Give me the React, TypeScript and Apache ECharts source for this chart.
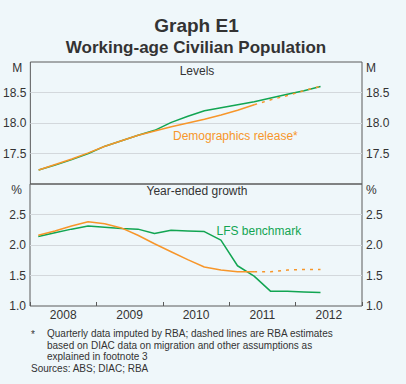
import React, { useEffect, useRef } from "react";
import * as echarts from "echarts";

const years = ["2008", "2009", "2010", "2011", "2012"];
const quarters = [
  "2008-Q1", "2008-Q2", "2008-Q3", "2008-Q4",
  "2009-Q1", "2009-Q2", "2009-Q3", "2009-Q4",
  "2010-Q1", "2010-Q2", "2010-Q3", "2010-Q4",
  "2011-Q1", "2011-Q2", "2011-Q3", "2011-Q4",
  "2012-Q1", "2012-Q2",
];
// Levels (millions)
const lfsLevel = [17.23, 17.31, 17.4, 17.5, 17.62, 17.71, 17.8, 17.88, 18.01, 18.11, 18.2, 18.25, 18.3, 18.35, 18.41, 18.47, 18.53, 18.6];
const demoLevel = [17.23, 17.32, 17.41, 17.51, 17.62, 17.71, 17.8, 17.87, 17.94, 18.0, 18.06, 18.13, 18.21, 18.3];
const demoLevelEst = [18.3, 18.38, 18.45, 18.53, 18.6]; // from 2011-Q2
// Year-ended growth (%)
const lfsGrowth = [2.14, 2.2, 2.26, 2.31, 2.29, 2.27, 2.26, 2.19, 2.24, 2.23, 2.22, 2.08, 1.66, 1.49, 1.24, 1.24, 1.23, 1.22];
const demoGrowth = [2.16, 2.23, 2.31, 2.38, 2.35, 2.28, 2.16, 2.02, 1.89, 1.76, 1.64, 1.59, 1.56, 1.56];
const demoGrowthEst = [1.56, 1.56, 1.59, 1.6, 1.6]; // from 2011-Q2
const levelTicks = { min: 17, max: 19, interval: 0.5 };
const growthTicks = { min: 1, max: 3, interval: 0.5 };

const GREEN = "#12a552";
const ORANGE = "#f7962a";
const TEXT = "#333333";
const FONT = '"Liberation Sans", Arial, sans-serif';
const BG = "#eff7fa";

const toX = (q: string) => {
  const [y, n] = q.split("-Q");
  return +y + (+n - 0.5) / 4;
};
const pairs = (qs: string[], vals: number[]) => vals.map((v, i) => [toX(qs[i]), v]);
const estStart = quarters.indexOf("2011-Q2");

export default function App() {
  const ref = useRef<HTMLDivElement>(null);
  useEffect(() => {
    if (!ref.current) return;
    const chart = echarts.init(ref.current, null, { renderer: "svg" });
    const yLabel = (unit: string, top: number, side: "l" | "r") => ({
      color: TEXT,
      fontSize: 12,
      fontFamily: FONT,
      margin: 4,
      formatter: (v: number) => {
        if (Math.abs(v - top) < 1e-9) return `{u|${unit}}`;
        if (unit === "M" && Math.abs(v - levelTicks.min) < 1e-9) return "";
        return v.toFixed(1);
      },
      rich: {
        u: {
          color: TEXT,
          fontSize: 12,
          fontFamily: FONT,
          padding: side === "l" ? [11, 4, 0, 0] : [11, 0, 0, 0],
        },
      },
    });
    const yAx = (grid: number, pos: "left" | "right", t: any, unit: string) => ({
      type: "value",
      gridIndex: grid,
      position: pos,
      min: t.min,
      max: t.max,
      interval: t.interval,
      axisLine: { show: false },
      axisTick: { show: false },
      splitLine: pos === "left"
        ? { show: true, showMinLine: false, showMaxLine: false, lineStyle: { color: "#d3d8dc", width: 1 } }
        : { show: false },
      axisLabel: yLabel(unit, t.max, pos === "left" ? "l" : "r"),
    });
    const line = (name: string, x: number, y: number, data: any, color: string, dashed = false) => ({
      name,
      type: "line",
      xAxisIndex: x,
      yAxisIndex: y,
      data,
      symbol: "none",
      lineStyle: { color, width: 1.5, type: dashed ? [3, 5] : "solid" },
      z: color === ORANGE ? 3 : 2,
    });
    const gText = (text: string, x: number, y: number, size: number, opts: any = {}) => ({
      type: "text",
      x,
      y,
      style: {
        text,
        fill: opts.fill || TEXT,
        font: `${opts.bold ? "bold " : ""}${size}px ${FONT}`,
        textAlign: opts.align || "left",
        textVerticalAlign: "middle",
      },
    });
    chart.setOption({
      animation: false,
      backgroundColor: BG,
      grid: [
        { left: 30, right: 44, top: 62, height: 122, show: true, borderColor: "#5a5a5a", borderWidth: 1, backgroundColor: "transparent" },
        { left: 30, right: 44, top: 184, height: 122, show: true, borderColor: "#5a5a5a", borderWidth: 1, backgroundColor: "transparent" },
      ],
      xAxis: [
        { type: "value", gridIndex: 0, min: 2008, max: 2013, interval: 1, show: false },
        {
          type: "value", gridIndex: 1, min: 2008, max: 2013, interval: 1,
          axisLine: { show: false },
          axisTick: { show: true, inside: true, length: 4, lineStyle: { color: "#5a5a5a" } },
          axisLabel: { show: false },
          splitLine: { show: false },
        },
        {
          type: "category", gridIndex: 1, data: years, boundaryGap: true, position: "bottom",
          axisLine: { show: false }, axisTick: { show: false }, splitLine: { show: false },
          axisLabel: { color: TEXT, fontSize: 12, fontFamily: FONT, margin: 3 },
        },
      ],
      yAxis: [
        yAx(0, "left", levelTicks, "M"),
        yAx(0, "right", levelTicks, "M"),
        yAx(1, "left", growthTicks, "%"),
        yAx(1, "right", growthTicks, "%"),
      ],
      series: [
        line("LFS benchmark", 0, 0, pairs(quarters, lfsLevel), GREEN),
        line("Demographics release*", 0, 0, pairs(quarters, demoLevel), ORANGE),
        line("Demographics release* (est.)", 0, 0, pairs(quarters.slice(estStart), demoLevelEst), ORANGE, true),
        line("LFS benchmark growth", 1, 2, pairs(quarters, lfsGrowth), GREEN),
        line("Demographics growth", 1, 2, pairs(quarters, demoGrowth), ORANGE),
        line("Demographics growth (est.)", 1, 2, pairs(quarters.slice(estStart), demoGrowthEst), ORANGE, true),
      ],
      graphic: [
        gText("Graph E1", 196.5, 25.5, 19, { bold: true, align: "center" }),
        gText("Working-age Civilian Population", 196, 47.5, 17, { bold: true, align: "center" }),
        gText("Levels", 197, 71, 12, { align: "center" }),
        gText("Year-ended growth", 197, 191, 12, { align: "center" }),
        gText("Demographics release*", 173, 135.5, 12, { fill: ORANGE }),
        gText("LFS benchmark", 216.5, 230.5, 12, { fill: GREEN }),
        gText("*", 31, 334, 10),
        gText("Quarterly data imputed by RBA; dashed lines are RBA estimates", 47, 333.5, 10),
        gText("based on DIAC data on migration and other assumptions as", 47, 345, 10),
        gText("explained in footnote 3", 47, 356.7, 10),
        gText("Sources: ABS; DIAC; RBA", 31, 368, 10),
      ],
    });
    return () => chart.dispose();
  }, []);
  return (
    <div
      ref={ref}
      style={{ position: "fixed", left: 0, top: 0, width: 406, height: 384, background: BG }}
    />
  );
}
